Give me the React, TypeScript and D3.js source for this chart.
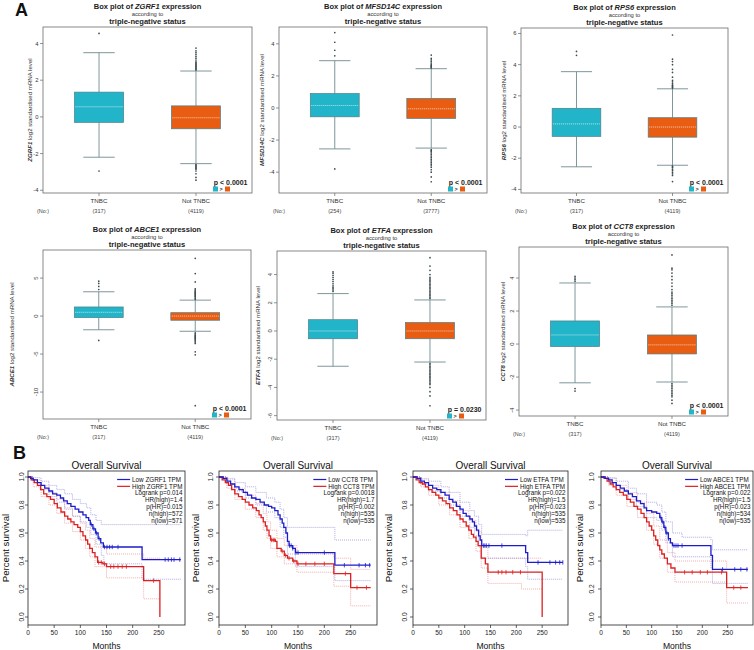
import React from 'react';
import * as d3 from 'd3';

const FONT = '"Liberation Sans", Arial, Helvetica, sans-serif';

/* ================= Panel A data ================= */
const boxGenes = ['ZGRF1', 'MFSD14C', 'RPS6', 'ABCE1', 'ETFA', 'CCT8'];
const groups = ['TNBC', 'Not TNBC'];
const nTNBC = ['(317)', '(254)', '(317)', '(317)', '(317)', '(317)'];
const nNot = ['(4119)', '(3777)', '(4119)', '(4119)', '(4119)', '(4119)'];
const pLabels = ['p < 0.0001', 'p < 0.0001', 'p < 0.0001', 'p < 0.0001', 'p = 0.0230', 'p < 0.0001'];
// [lower whisker, Q1, median, Q3, upper whisker]
const statsTNBC = [
  [-2.2, -0.3, 0.55, 1.35, 3.5],
  [-2.55, -0.55, 0.15, 0.9, 2.95],
  [-2.55, -0.6, 0.2, 1.2, 3.55],
  [-1.8, -0.2, 0.5, 1.2, 3.2],
  [-2.5, -0.55, 0.0, 0.8, 2.65],
  [-2.35, -0.15, 0.55, 1.4, 3.7],
];
const statsNot = [
  [-2.55, -0.65, -0.05, 0.6, 2.5],
  [-2.5, -0.65, -0.05, 0.6, 2.45],
  [-2.45, -0.65, 0.0, 0.6, 2.45],
  [-2.0, -0.55, 0.0, 0.45, 2.1],
  [-2.2, -0.55, 0.0, 0.6, 2.2],
  [-2.3, -0.6, -0.05, 0.55, 2.25],
];
const outTNBC = [
  [4.55, -2.95],
  [3.25, 3.6, 4.1, 4.7, -3.8],
  [4.6, 4.85],
  [3.5, 3.9, 4.3, 4.6, -3.2],
  [2.8, 2.9, 3.0, 3.1, 3.2, 3.35, 3.5, 3.65, 3.8, 3.95, 4.1, 4.2],
  [3.8, 3.9, 4.0, 4.1, -2.7, -2.85],
];
const outNot = [
  [2.55, 2.6, 2.65, 2.7, 2.75, 2.8, 2.85, 2.9, 2.95, 3.0, 3.1, 3.2, 3.3, 3.4, 3.5, 3.6, 3.75,
    -2.6, -2.65, -2.7, -2.75, -2.8, -2.85, -2.95, -3.1, -3.3, -3.45],
  [2.5, 2.55, 2.6, 2.65, 2.7, 2.8, 2.9, 3.0, 3.1, 3.3,
    -2.6, -2.65, -2.7, -2.8, -2.9, -3.0, -3.1, -3.2, -3.3, -3.4, -3.5, -3.6, -3.7, -3.85, -4.0, -4.3, -4.6],
  [2.5, 2.55, 2.6, 2.65, 2.7, 2.8, 2.9, 3.0, 3.2, 3.5, 3.7, 4.0, 4.2, 4.35, 5.9,
    -2.5, -2.55, -2.6, -2.7, -2.8, -2.9, -3.0, -3.1, -3.5],
  [2.2, 2.35, 2.5, 2.6, 2.7, 2.8, 2.9, 3.0, 3.1, 3.2, 3.3, 3.45, 3.6, 4.5, 5.6, 7.6,
    -2.2, -2.35, -2.5, -2.6, -2.7, -2.8, -2.9, -3.0, -3.1, -3.25, -3.4, -3.6, -4.7, -5.1, -11.8],
  [2.3, 2.4, 2.5, 2.6, 2.7, 2.8, 2.9, 3.0, 3.1, 3.2, 3.3, 3.4, 3.5, 3.6, 3.7, 3.8, 4.0, 4.3, 4.6, 5.2,
    -2.3, -2.4, -2.5, -2.6, -2.7, -2.8, -2.9, -3.0, -3.1, -3.2, -3.3, -3.4, -3.5, -3.6, -3.7, -3.8, -4.0, -4.3, -4.6, -5.3],
  [2.35, 2.45, 2.55, 2.65, 2.75, 2.85, 2.95, 3.05, 3.15, 3.3, 3.5, 3.7, 3.9, 4.1, 4.3, 4.5, 4.6, 5.4,
    -2.4, -2.5, -2.6, -2.7, -2.8, -2.9, -3.0, -3.1, -3.2, -3.4, -3.6],
];
const boxDomains = [[-4.15, 4.9], [-5.3, 5.05], [-4.23, 6.35], [-13.55, 8.7], [-6.31, 5.67], [-4.36, 5.88]];
const boxTicks = [[-4, -2, 0, 2, 4], [-4, -2, 0, 2, 4], [-4, -2, 0, 2, 4, 6], [-10, -5, 0, 5], [-6, -4, -2, 0, 2, 4], [-4, -2, 0, 2, 4]];

/* ================= Panel B data ================= */
const survGenes = ['ZGRF1', 'CCT8', 'ETFA', 'ABCE1'];
const logrankP = ['0.014', '0.0018', '0.022', '0.022'];
const hrHigh = ['1.4', '1.7', '1.5', '1.5'];
const pHR = ['0.015', '0.002', '0.023', '0.023'];
const nHigh = ['572', '535', '535', '534'];
const nLow = ['571', '535', '535', '535'];
const monthTicks = [0, 50, 100, 150, 200, 250];
const survTicks = [0, 0.2, 0.4, 0.6, 0.8, 1.0];

// [months, survival]
const kmLow = [
  [[0, 1], [5, 0.99], [10, 0.98], [18, 0.96], [25, 0.94], [32, 0.92], [40, 0.9], [47, 0.88], [55, 0.87], [62, 0.85], [68, 0.83], [75, 0.81], [82, 0.79], [90, 0.77], [97, 0.75], [105, 0.73], [111, 0.71], [116, 0.69], [119, 0.66], [124, 0.63], [129, 0.6], [134, 0.56], [139, 0.53], [144, 0.5], [218, 0.41], [292, 0.41]],
  [[0, 1], [8, 0.99], [15, 0.97], [22, 0.95], [30, 0.93], [38, 0.91], [46, 0.89], [54, 0.87], [62, 0.85], [70, 0.84], [78, 0.82], [86, 0.8], [94, 0.79], [100, 0.78], [106, 0.76], [112, 0.73], [116, 0.7], [120, 0.67], [123, 0.64], [127, 0.6], [130, 0.54], [133, 0.51], [140, 0.49], [145, 0.46], [220, 0.37], [288, 0.37]],
  [[0, 1], [8, 0.99], [15, 0.97], [22, 0.96], [30, 0.94], [38, 0.92], [46, 0.91], [54, 0.89], [62, 0.87], [70, 0.84], [77, 0.82], [84, 0.79], [91, 0.77], [97, 0.74], [103, 0.72], [110, 0.7], [115, 0.68], [119, 0.65], [123, 0.62], [127, 0.58], [130, 0.55], [133, 0.51], [218, 0.46], [222, 0.39], [290, 0.39]],
  [[0, 1], [8, 0.99], [15, 0.98], [22, 0.96], [30, 0.94], [38, 0.92], [46, 0.9], [54, 0.88], [62, 0.86], [70, 0.83], [78, 0.81], [85, 0.78], [90, 0.76], [100, 0.75], [110, 0.74], [116, 0.71], [120, 0.68], [124, 0.64], [128, 0.6], [133, 0.56], [137, 0.53], [141, 0.51], [217, 0.44], [220, 0.34], [290, 0.34]],
];
const kmHigh = [
  [[0, 1], [6, 0.98], [12, 0.96], [18, 0.94], [24, 0.91], [30, 0.88], [36, 0.86], [43, 0.84], [50, 0.81], [56, 0.78], [63, 0.75], [70, 0.72], [76, 0.7], [82, 0.68], [88, 0.66], [95, 0.64], [100, 0.61], [105, 0.58], [110, 0.55], [114, 0.52], [118, 0.49], [123, 0.46], [128, 0.43], [133, 0.39], [143, 0.38], [150, 0.36], [221, 0.26], [252, 0]],
  [[0, 1], [6, 0.98], [12, 0.96], [18, 0.94], [24, 0.91], [30, 0.88], [37, 0.86], [44, 0.84], [50, 0.82], [57, 0.8], [64, 0.78], [71, 0.76], [76, 0.73], [80, 0.71], [84, 0.68], [88, 0.65], [91, 0.62], [95, 0.58], [98, 0.55], [107, 0.54], [110, 0.49], [118, 0.47], [124, 0.44], [130, 0.42], [140, 0.4], [148, 0.38], [218, 0.31], [250, 0.21], [288, 0.21]],
  [[0, 1], [6, 0.98], [12, 0.96], [18, 0.95], [24, 0.93], [30, 0.91], [37, 0.89], [44, 0.87], [50, 0.85], [57, 0.83], [64, 0.81], [71, 0.78], [78, 0.76], [85, 0.73], [91, 0.7], [97, 0.68], [103, 0.65], [108, 0.62], [113, 0.59], [117, 0.57], [122, 0.54], [126, 0.51], [132, 0.42], [140, 0.38], [145, 0.32], [250, 0]],
  [[0, 1], [6, 0.99], [12, 0.97], [18, 0.95], [24, 0.93], [30, 0.91], [37, 0.89], [44, 0.87], [51, 0.84], [58, 0.82], [65, 0.79], [72, 0.77], [79, 0.74], [85, 0.71], [90, 0.68], [95, 0.65], [100, 0.62], [104, 0.58], [108, 0.55], [112, 0.51], [116, 0.48], [120, 0.45], [125, 0.42], [131, 0.38], [138, 0.35], [146, 0.32], [248, 0.21], [290, 0.21]],
];
const censLow = [
  [121, 126, 131, 136, 146, 151, 156, 161, 172, 262, 268, 274, 279, 290],
  [134, 137, 140, 146, 150, 200, 238, 266, 278, 286],
  [136, 139, 142, 147, 172, 242, 265, 276, 284, 290],
  [118, 122, 126, 130, 133, 144, 148, 152, 160, 240, 264, 276, 288],
];
const censHigh = [
  [135, 140, 146, 158, 164, 172, 180, 188, 240],
  [100, 103, 106, 120, 126, 133, 142, 150, 165, 182, 200, 240, 262, 280],
  [165, 172, 180, 193, 208],
  [165, 180, 196, 210, 238, 262, 276],
];
// [months, lower, upper] 95% CI
const ciLow = [
  [[0, 1, 1], [10, 0.96, 0.995], [25, 0.91, 0.97], [40, 0.86, 0.94], [55, 0.82, 0.91], [70, 0.77, 0.88], [85, 0.72, 0.84], [100, 0.68, 0.81], [112, 0.64, 0.78], [120, 0.59, 0.73], [130, 0.52, 0.69], [140, 0.44, 0.66], [145, 0.38, 0.66], [218, 0.27, 0.66], [292, 0.27, 0.66]],
  [[0, 1, 1], [15, 0.95, 0.99], [30, 0.9, 0.96], [50, 0.85, 0.93], [70, 0.8, 0.89], [90, 0.75, 0.85], [106, 0.71, 0.82], [116, 0.64, 0.77], [123, 0.57, 0.71], [130, 0.45, 0.64], [145, 0.36, 0.64], [220, 0.26, 0.55], [288, 0.26, 0.55]],
  [[0, 1, 1], [15, 0.95, 0.99], [30, 0.9, 0.97], [54, 0.85, 0.93], [70, 0.8, 0.89], [91, 0.72, 0.82], [110, 0.64, 0.76], [119, 0.58, 0.72], [127, 0.5, 0.66], [133, 0.42, 0.59], [218, 0.36, 0.58], [222, 0.27, 0.62], [290, 0.27, 0.62]],
  [[0, 1, 1], [15, 0.96, 0.995], [30, 0.91, 0.97], [54, 0.84, 0.92], [70, 0.79, 0.88], [90, 0.71, 0.82], [110, 0.69, 0.8], [120, 0.62, 0.75], [128, 0.53, 0.68], [141, 0.43, 0.6], [160, 0.43, 0.57], [217, 0.35, 0.55], [220, 0.24, 0.48], [290, 0.24, 0.48]],
];
const ciHigh = [
  [[0, 1, 1], [10, 0.93, 0.98], [25, 0.86, 0.94], [40, 0.8, 0.89], [55, 0.74, 0.84], [70, 0.67, 0.78], [85, 0.61, 0.72], [100, 0.55, 0.67], [110, 0.49, 0.62], [118, 0.43, 0.56], [128, 0.36, 0.5], [150, 0.28, 0.45], [221, 0.13, 0.42], [252, 0.13, 0.42]],
  [[0, 1, 1], [15, 0.92, 0.98], [30, 0.84, 0.92], [50, 0.77, 0.87], [70, 0.71, 0.81], [84, 0.62, 0.74], [91, 0.56, 0.68], [98, 0.49, 0.62], [110, 0.43, 0.56], [124, 0.38, 0.51], [148, 0.32, 0.45], [218, 0.22, 0.42], [250, 0.08, 0.34], [288, 0.08, 0.34]],
  [[0, 1, 1], [15, 0.93, 0.98], [30, 0.87, 0.94], [50, 0.8, 0.89], [71, 0.73, 0.83], [91, 0.64, 0.76], [108, 0.56, 0.69], [122, 0.47, 0.61], [132, 0.35, 0.5], [145, 0.24, 0.42], [210, 0.2, 0.42], [250, 0.2, 0.42]],
  [[0, 1, 1], [15, 0.94, 0.99], [30, 0.87, 0.94], [51, 0.79, 0.89], [72, 0.71, 0.82], [90, 0.62, 0.74], [104, 0.52, 0.65], [116, 0.42, 0.55], [131, 0.32, 0.46], [146, 0.25, 0.4], [248, 0.1, 0.34], [290, 0.1, 0.34]],
];

/* ================= Layout / style ================= */
const TEAL = '#22b5c9';
const ORANGE = '#e85d12';
const BOX_STROKE = '#4f7f86';
const WHISK = '#6f8b90';
const BLUE = '#1c1ccc';
const RED = '#dd1f1f';

const boxFrames = [
  { l: 43, r: 252, t: 27, b: 193, labelX: 30, rot: false },
  { l: 279, r: 487, t: 27, b: 193, labelX: 262, rot: false },
  { l: 521, r: 728, t: 28, b: 193, labelX: 504, rot: false },
  { l: 43, r: 251, t: 250, b: 419, labelX: 12, rot: true },
  { l: 277, r: 486, t: 251, b: 420, labelX: 258, rot: true },
  { l: 519, r: 728, t: 247, b: 416, labelX: 503, rot: true },
];
const survFrames = [
  { l: 28, r: 185, ylab: 6, ytick: 22 },
  { l: 219, r: 377, ylab: 196, ytick: 211 },
  { l: 413, r: 568, ylab: 389, ytick: 405 },
  { l: 601, r: 753, ylab: 580, ytick: 592 },
];
const S_TOP = 471, S_BOT = 625, S_Y1 = 477, S_Y0 = 617;

function textWidth(s: string, size: number) {
  try {
    const c = document.createElement('canvas').getContext('2d');
    if (c) {
      c.font = `${size}px "Liberation Sans", Arial, sans-serif`;
      return c.measureText(s).width;
    }
  } catch (e) { /* ignore */ }
  return s.length * size * 0.55;
}

function BoxPlot({ i }: { i: number }) {
  const f = boxFrames[i];
  const W = f.r - f.l;
  const y = d3.scaleLinear().domain(boxDomains[i]).range([f.b, f.t]);
  const x = d3.scalePoint<string>().domain(groups).range([f.l, f.r]).padding(0.578);
  const bw = W * 0.235;
  const cw = bw * 0.64;
  const gene = boxGenes[i];
  const cx = (f.l + f.r) / 2;
  const cy = (f.t + f.b) / 2;
  const sets = [
    { g: groups[0], s: statsTNBC[i], o: outTNBC[i], fill: TEAL, n: nTNBC[i] },
    { g: groups[1], s: statsNot[i], o: outNot[i], fill: ORANGE, n: nNot[i] },
  ];
  return (
    <g>
      <text x={cx} y={f.t - 18} textAnchor="middle" fontSize={7.5} fontWeight="bold" fill="#222">
        Box plot of <tspan fontStyle="italic">{gene}</tspan> expression
      </text>
      <text x={cx} y={f.t - 11.5} textAnchor="middle" fontSize={5.8} fill="#333">according to</text>
      <text x={cx} y={f.t - 3.5} textAnchor="middle" fontSize={7.6} fontWeight="bold" fill="#222">triple-negative status</text>

      <text transform={`translate(${f.labelX},${cy}) rotate(-90)`} dy="0.35em" textAnchor="middle" fontSize={6.1} fill="#333">
        <tspan fontWeight="bold" fontStyle="italic">{gene}</tspan> log2 standardised mRNA level
      </text>

      {boxTicks[i].map((t) => (
        <g key={t}>
          <line x1={f.l - 3} x2={f.l} y1={y(t)} y2={y(t)} stroke="#666" strokeWidth={0.7} />
          {f.rot ? (
            <text transform={`translate(${f.l - 7},${y(t)}) rotate(-90)`} dy="0.35em" textAnchor="middle" fontSize={5.8} fill="#333">{t}</text>
          ) : (
            <text x={f.l - 4.5} y={y(t)} dy="0.35em" textAnchor="end" fontSize={5.8} fill="#333">{t}</text>
          )}
        </g>
      ))}

      <text x={f.l} y={f.b + 20} textAnchor="middle" fontSize={5.4} fill="#444">(No:)</text>
      {sets.map((st) => (
        <g key={st.g}>
          <line x1={x(st.g)} x2={x(st.g)} y1={f.b} y2={f.b + 3} stroke="#666" strokeWidth={0.7} />
          <text x={x(st.g)} y={f.b + 9.5} textAnchor="middle" fontSize={6.2} fill="#333">{st.g}</text>
          <text x={x(st.g)} y={f.b + 20} textAnchor="middle" fontSize={5.6} fill="#444">{st.n}</text>
        </g>
      ))}

      {sets.map((st) => {
        const px = x(st.g) as number;
        const [lw, q1, md, q3, hw] = st.s;
        return (
          <g key={'b' + st.g}>
            <line x1={px} x2={px} y1={y(q3)} y2={y(hw)} stroke={WHISK} strokeWidth={0.9} />
            <line x1={px} x2={px} y1={y(q1)} y2={y(lw)} stroke={WHISK} strokeWidth={0.9} />
            <line x1={px - cw / 2} x2={px + cw / 2} y1={y(hw)} y2={y(hw)} stroke={WHISK} strokeWidth={0.9} />
            <line x1={px - cw / 2} x2={px + cw / 2} y1={y(lw)} y2={y(lw)} stroke={WHISK} strokeWidth={0.9} />
            {st.o.map((v, k) => (
              <circle key={k} cx={px} cy={y(v)} r={0.85} fill="#3a4a4d" />
            ))}
            <rect x={px - bw / 2} y={y(q3)} width={bw} height={y(q1) - y(q3)} fill={st.fill} stroke={BOX_STROKE} strokeWidth={0.7} />
            <line x1={px - bw / 2 + 1} x2={px + bw / 2 - 1} y1={y(md)} y2={y(md)} stroke="#fff" strokeWidth={0.8} strokeDasharray="1,1" opacity={0.9} />
          </g>
        );
      })}

      <rect x={f.l} y={f.t} width={W} height={f.b - f.t} fill="none" stroke="#6a6a6a" strokeWidth={0.8} />

      <text x={f.r - 4.5} y={f.b - 8} textAnchor="end" fontSize={7} fontWeight="bold" fill="#222">{pLabels[i]}</text>
      <rect x={f.r - 39} y={f.b - 6.5} width={5} height={5} fill={TEAL} />
      <text x={f.r - 31} y={f.b - 1.8} textAnchor="middle" fontSize={5.5} fontWeight="bold" fill="#333">&gt;</text>
      <rect x={f.r - 27} y={f.b - 6.5} width={5} height={5} fill={ORANGE} />
    </g>
  );
}

function stepValue(curve: number[][], t: number) {
  let v = curve[0][1];
  for (const p of curve) {
    if (p[0] <= t) v = p[1];
    else break;
  }
  return v;
}

function SurvPlot({ i }: { i: number }) {
  const f = survFrames[i];
  const x = d3.scaleLinear().domain([0, 300]).range([f.l, f.r]);
  const y = d3.scaleLinear().domain([0, 1]).range([S_Y0, S_Y1]);
  const line = d3.line<number[]>().x((d) => x(d[0])).y((d) => y(d[1])).curve(d3.curveStepAfter);
  const lineLo = d3.line<number[]>().x((d) => x(d[0])).y((d) => y(d[1])).curve(d3.curveStepAfter);
  const lineHi = d3.line<number[]>().x((d) => x(d[0])).y((d) => y(d[2])).curve(d3.curveStepAfter);
  const gene = survGenes[i];
  const cx = (f.l + f.r) / 2;
  const cy = (S_TOP + S_BOT) / 2;
  const LFS = 6.3;
  const lowLab = `Low ${gene} TPM`;
  const highLab = `High ${gene} TPM`;
  const tr = f.r - 2.5;
  const tx = tr - Math.max(textWidth(lowLab, LFS), textWidth(highLab, LFS));
  const ly0 = 479.5;
  const ldy = 6.85;
  const stats = [
    `Logrank p=${logrankP[i]}`,
    `HR(high)=${hrHigh[i]}`,
    `p(HR)=${pHR[i]}`,
    `n(high)=${nHigh[i]}`,
    `n(low)=${nLow[i]}`,
  ];
  const curves = [
    { km: kmHigh[i], ci: ciHigh[i], cens: censHigh[i], col: RED, ciCol: '#ee8c8c' },
    { km: kmLow[i], ci: ciLow[i], cens: censLow[i], col: BLUE, ciCol: '#8a8ad8' },
  ];
  return (
    <g>
      <text x={cx} y={468.5} textAnchor="middle" fontSize={10} fill="#111">Overall Survival</text>
      <text transform={`translate(${f.ylab},${cy}) rotate(-90)`} dy="0.35em" textAnchor="middle" fontSize={9.6} fill="#111">Percent survival</text>
      <text x={(x(0) + x(300)) / 2} y={646} dy="0.35em" textAnchor="middle" fontSize={8.6} fill="#111">Months</text>

      {survTicks.map((t) => (
        <g key={t}>
          <line x1={f.l - 3} x2={f.l} y1={y(t)} y2={y(t)} stroke="#222" strokeWidth={0.7} />
          <text transform={`translate(${f.ytick},${y(t)}) rotate(-90)`} dy="0.35em" textAnchor="middle" fontSize={6.6} fill="#222">{t.toFixed(1)}</text>
        </g>
      ))}
      {monthTicks.map((t) => (
        <g key={t}>
          <line x1={x(t)} x2={x(t)} y1={S_BOT} y2={S_BOT + 3} stroke="#222" strokeWidth={0.7} />
          <text x={x(t)} y={633} dy="0.35em" textAnchor="middle" fontSize={6.6} fill="#222">{t}</text>
        </g>
      ))}

      {curves.map((c, k) => (
        <g key={'ci' + k}>
          <path d={lineLo(c.ci) || ''} fill="none" stroke={c.ciCol} strokeWidth={0.7} strokeDasharray="1,1" />
          <path d={lineHi(c.ci) || ''} fill="none" stroke={c.ciCol} strokeWidth={0.7} strokeDasharray="1,1" />
        </g>
      ))}
      {curves.map((c, k) => (
        <g key={'km' + k}>
          <path d={line(c.km) || ''} fill="none" stroke={c.col} strokeWidth={1.3} />
          {c.cens.map((t, j) => (
            <line key={j} x1={x(t)} x2={x(t)} y1={y(stepValue(c.km, t)) - 2.2} y2={y(stepValue(c.km, t)) + 2.2} stroke={c.col} strokeWidth={0.8} />
          ))}
        </g>
      ))}

      <rect x={f.l} y={S_TOP} width={f.r - f.l} height={S_BOT - S_TOP} fill="none" stroke="#222" strokeWidth={0.8} />

      <line x1={tx - 15} x2={tx - 2} y1={ly0} y2={ly0} stroke={BLUE} strokeWidth={1.2} />
      <text x={tx} y={ly0} dy="0.35em" fontSize={LFS} fill="#111">{lowLab}</text>
      <line x1={tx - 15} x2={tx - 2} y1={ly0 + ldy} y2={ly0 + ldy} stroke={RED} strokeWidth={1.2} />
      <text x={tx} y={ly0 + ldy} dy="0.35em" fontSize={LFS} fill="#111">{highLab}</text>
      {stats.map((s, k) => (
        <text key={k} x={tr} y={ly0 + ldy * (k + 2)} dy="0.35em" textAnchor="end" fontSize={LFS} fill="#111">{s}</text>
      ))}
    </g>
  );
}

export default function App() {
  return (
    <svg width={754} height={650} style={{ position: 'absolute', left: 0, top: 0 }} fontFamily={FONT}>
      <rect width={754} height={650} fill="#fff" />
      <text x={15} y={16} fontSize={18} fontWeight="bold" fill="#111">A</text>
      <text x={13} y={459} fontSize={18} fontWeight="bold" fill="#111">B</text>
      {boxGenes.map((g, i) => <BoxPlot key={g} i={i} />)}
      {survGenes.map((g, i) => <SurvPlot key={g} i={i} />)}
    </svg>
  );
}
